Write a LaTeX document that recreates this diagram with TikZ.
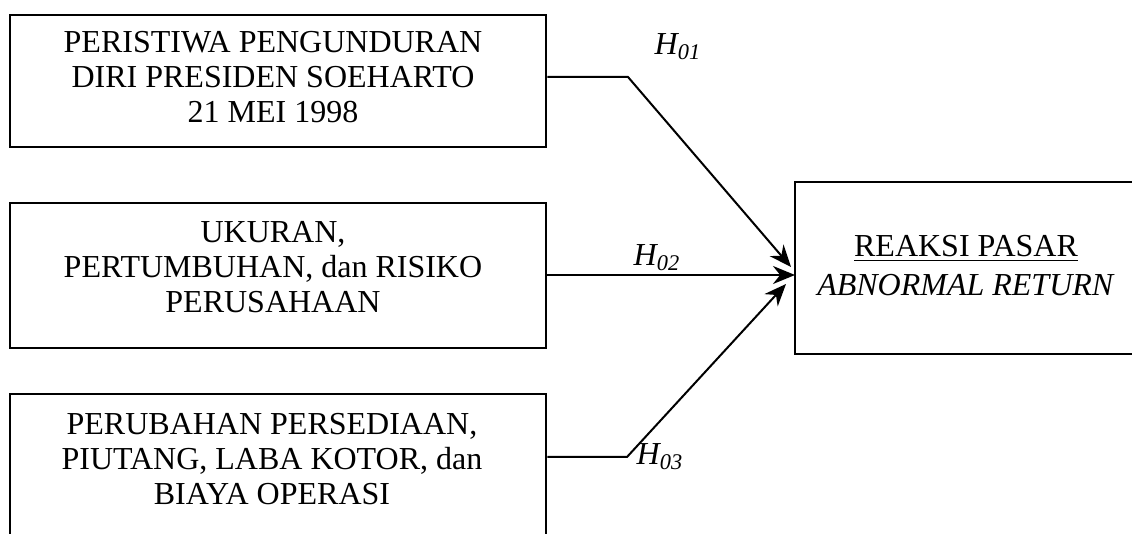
\documentclass[tikz,border=0pt]{standalone}
\usepackage{fontspec}
\setmainfont{Liberation Serif}
\usepackage{tikz}
\usetikzlibrary{arrows.meta, positioning}
\tikzstyle{kotak} = [draw, line width=1.3pt, inner sep=0pt]
\tikzstyle{isi} = [align=center, font=\fontsize{16}{17.5}\selectfont]
\tikzstyle{hipo} = [font=\fontsize{16}{18}\selectfont\itshape]
\tikzstyle{arrow} = [line width=1pt,-{Stealth[length=11pt,width=9pt]}]

\begin{document}
\begin{tikzpicture}[x=0.5pt,y=-0.5pt]
\useasboundingbox (0,0) rectangle (1132,534);
% kotak kiri dan kanan
\node[kotak, minimum width=268pt, minimum height=66pt] (peristiwa) at (278,81) {};
\node[kotak, minimum width=268pt, minimum height=72.5pt] (ukuran) at (278,275.5) {};
\node[kotak, minimum width=268pt, minimum height=90pt] (perubahan) at (278,484) {};
\node[kotak, minimum width=175pt, minimum height=86pt] (reaksi) at (970,268) {};
% teks
\node[isi] (tperistiwa) at (273,77) {PERISTIWA PENGUNDURAN\\DIRI PRESIDEN SOEHARTO\\21 MEI 1998};
\node[isi] (tukuran) at (273,267) {UKURAN,\\PERTUMBUHAN, dan RISIKO\\PERUSAHAAN};
\node[isi] (tperubahan) at (272,459) {PERUBAHAN PERSEDIAAN,\\PIUTANG, LABA KOTOR, dan\\BIAYA OPERASI};
\node[isi] (treaksi) at (966,266) {\underline{REAKSI PASAR}\\[2pt]\textit{ABNORMAL RETURN}};
% hipotesis
\coordinate (belok1) at (628,77);
\coordinate (belok3) at (627,457);
\coordinate (ujung1) at (791,267);
\coordinate (ujung2) at (795,275);
\coordinate (ujung3) at (786,284);
\draw[arrow] (peristiwa.east |- belok1) -- (belok1) -- (ujung1);
\draw[arrow] (ukuran.east |- ujung2) -- (ujung2);
\draw[arrow] (perubahan.east |- belok3) -- (belok3) -- (ujung3);
\node[hipo] (h1) at (678,47) {H\textsubscript{01}};
\node[hipo] (h2) at (657,258) {H\textsubscript{02}};
\node[hipo] (h3) at (660,457) {H\textsubscript{03}};
\end{tikzpicture}
\end{document}
